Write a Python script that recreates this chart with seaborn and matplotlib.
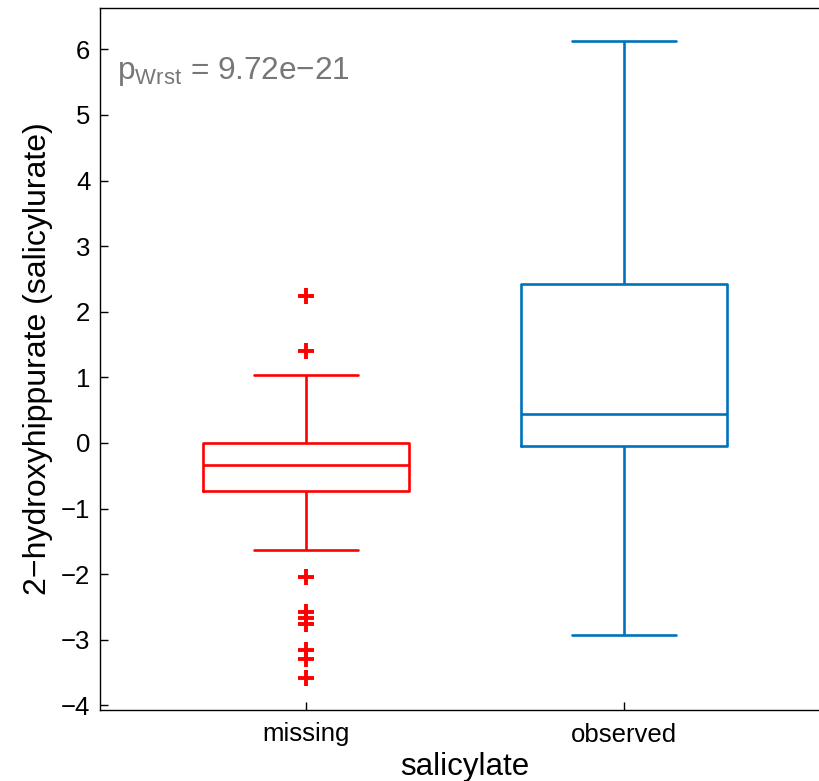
import numpy as np
import pandas as pd
import matplotlib
matplotlib.use("Agg")
import matplotlib.pyplot as plt
import seaborn as sns

# ---- data ----
categories = ["missing", "observed"]
colors = ["#FF0000", "#0072BD"]
# whisker low, Q1, median, Q3, whisker high
missing_stats = [-1.63, -0.73, -0.33, 0.00, 1.04]
observed_stats = [-2.92, -0.05, 0.44, 2.43, 6.13]
missing_outliers = [2.24, 1.40, -2.04, -2.57, -2.67, -2.76, -3.16, -3.29, -3.58]
observed_outliers = []
p_text = r"p$_{\mathregular{Wrst}}$ = 9.72e−21"


def sample_from_stats(stats, outliers, k=10):
    lo, q1, med, q3, hi = stats
    return [lo] + [q1] * k + [med] * k + [q3] * k + [hi] + list(outliers)


rows = []
for cat, st, out in [("missing", missing_stats, missing_outliers),
                     ("observed", observed_stats, observed_outliers)]:
    for v in sample_from_stats(st, out):
        rows.append({"salicylate": cat, "value": v})
df = pd.DataFrame(rows)

sns.set_theme(style="white")
plt.rcParams["font.family"] = ["Liberation Sans", "DejaVu Sans"]
plt.rcParams["mathtext.fontset"] = "custom"
plt.rcParams["mathtext.rm"] = "Liberation Sans"

fig = plt.figure(figsize=(8.2, 7.81), dpi=100)
ax = fig.add_axes([100 / 820, 71 / 781, 730 / 820, 702 / 781])

lw = 1.9
for i, cat in enumerate(categories):
    sub = df[df["salicylate"] == cat]
    c = colors[i]
    sns.boxplot(data=sub, x="salicylate", y="value", order=categories,
                ax=ax, width=0.65, whis=1.5, fill=False, color=c,
                linewidth=lw,
                boxprops=dict(color=c, linewidth=lw),
                whiskerprops=dict(color=c, linewidth=lw),
                capprops=dict(color=c, linewidth=lw),
                medianprops=dict(color=c, linewidth=lw),
                flierprops=dict(marker="+", markeredgecolor=c, markersize=11,
                                markeredgewidth=2.8, linestyle="none"))

ax.set_xlim(-0.648, 1.648)
ax.set_ylim(-4.07, 6.63)
ax.set_yticks(range(-4, 7))
ax.set_yticklabels([str(v).replace("-", "−") for v in range(-4, 7)])
ax.tick_params(axis="both", direction="in", length=6, width=1, labelsize=18.5,
               colors="black", labelcolor="black", left=True, bottom=True)
ax.tick_params(axis="y", pad=7)
ax.tick_params(axis="x", pad=9)
for s in ax.spines.values():
    s.set_visible(True)
    s.set_color("black")
    s.set_linewidth(1)

ax.set_xlabel("salicylate", fontsize=22.5, labelpad=4, color="black")
ax.set_ylabel("2−hydroxyhippurate (salicylurate)", fontsize=23, labelpad=6,
              color="black")

ax.text(-0.595, 5.66, p_text, fontsize=22.8, color="#777777", va="center", ha="left")

fig.savefig("out.png", dpi=100)
